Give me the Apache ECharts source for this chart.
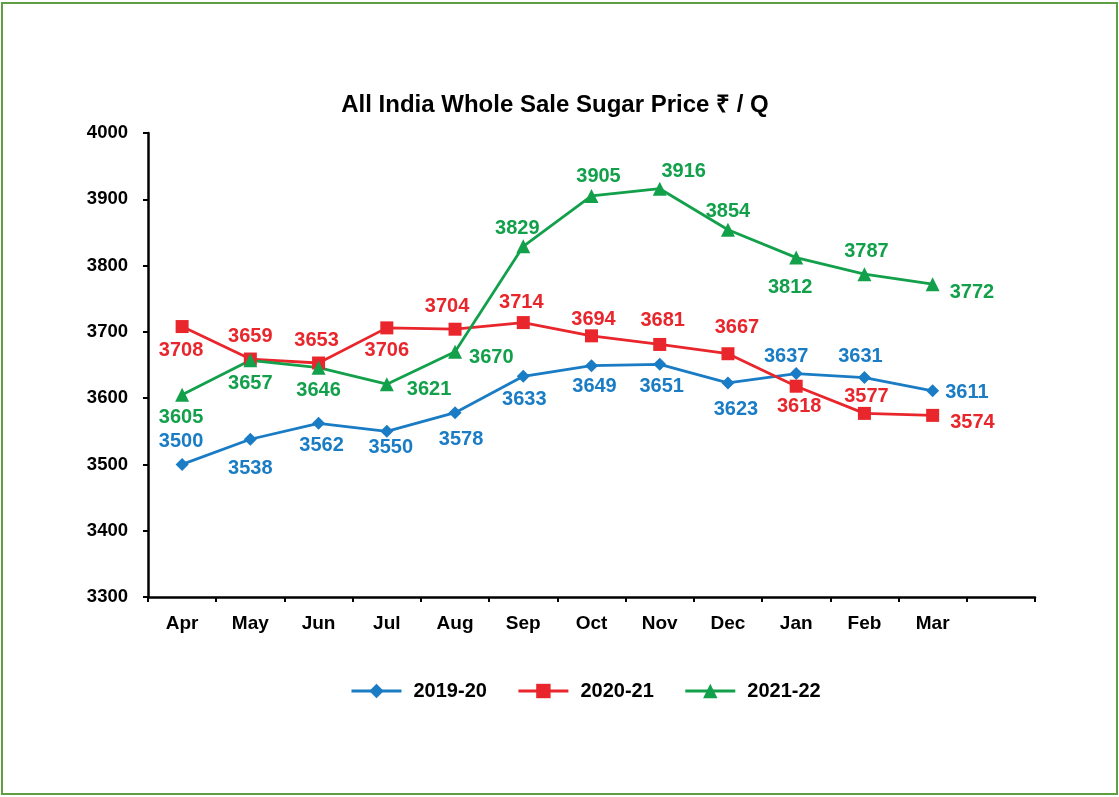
<!DOCTYPE html>
<html><head><meta charset="utf-8">
<script src="https://cdn.jsdelivr.net/npm/echarts@6/dist/echarts.min.js"></script>
<style>html,body{margin:0;padding:0;background:#fff}#c{width:1119px;height:797px}
#frame{position:absolute;left:1px;top:2px;width:1113px;height:789px;border:2px solid #5f9e43;pointer-events:none}</style>
</head><body><div id="c"></div><div id="frame"></div>
<script>
const categories = ['Apr','May','Jun','Jul','Aug','Sep','Oct','Nov','Dec','Jan','Feb','Mar',''];
const s2019 = [3500,3538,3562,3550,3578,3633,3649,3651,3623,3637,3631,3611];
const s2020 = [3708,3659,3653,3706,3704,3714,3694,3681,3667,3618,3577,3574];
const s2021 = [3605,3657,3646,3621,3670,3829,3905,3916,3854,3812,3787,3772];
const yTicks = {min:3300, max:4000, interval:100};
const seriesNames = ['2019-20','2020-21','2021-22'];

const pos2019 = ['top','bottom','bottom','bottom','bottom','bottom','bottom','bottom','bottom','top','top','right'];
const pos2020 = ['bottom','top','top','bottom','top','top','top','top','top','bottom','top','right'];
const pos2021 = ['bottom','bottom','bottom','right','right','top','top','top','top','bottom','top','right'];
const off2019 = [[-1,0],[0,7],[3,0],[4,-6],[6,4],[1,1],[3,-2],[2,0],[8,4],[-10,5],[-4,1],[0,2]];
const off2020 = [[-1,1],[0,0],[-2,0],[0,0],[-8,0],[-2,2],[2,6],[3,-1],[9,-4],[3,-2],[2,6],[5,7]];
const off2021 = [[-1,0],[0,0],[0,0],[7,5],[1,6],[-6,5],[7,4],[24,6],[0,5],[-6,7],[2,0],[4,8]];

const fam = '"Liberation Sans", Arial, Helvetica, sans-serif';
function mk(vals, pos, off){
  return vals.map((v,i)=>({value:v, label:{position:pos[i], offset:off[i]}}));
}
const colors = ['#1a7cc4','#e8262c','#12a04b'];
const symbols = ['diamond','rect','triangle'];
const sizes = [13,13,14];
const all = [[s2019,pos2019,off2019],[s2020,pos2020,off2020],[s2021,pos2021,off2021]];

const chart = echarts.init(document.getElementById('c'));
chart.setOption({
  animation:false,
  title:{text:'All India Whole Sale Sugar Price ₹ / Q', left:550, textAlign:'center', top:88,
    textStyle:{fontFamily:fam, fontSize:24, fontWeight:'bold', color:'#000'}},
  grid:{left:148, top:133, right:84, bottom:200},
  legend:{bottom:91, left:345, itemWidth:50, itemHeight:18, itemGap:30,
    lineStyle:{width:3},
    textStyle:{fontFamily:fam, fontSize:20, fontWeight:'bold', color:'#000', padding:[0,0,0,7]}, data:seriesNames},
  xAxis:{type:'category', data:categories, boundaryGap:true,
    axisLine:{lineStyle:{color:'#000', width:2.5}},
    axisTick:{show:true, length:5, lineStyle:{color:'#000', width:2}, alignWithLabel:false},
    axisLabel:{fontFamily:fam, fontSize:19, fontWeight:'bold', color:'#000', margin:17}},
  yAxis:{type:'value', min:yTicks.min, max:yTicks.max, interval:yTicks.interval,
    axisLine:{show:true, lineStyle:{color:'#000', width:2.5}},
    axisTick:{show:true, length:5, lineStyle:{color:'#000', width:2}},
    splitLine:{show:false},
    axisLabel:{fontFamily:fam, fontSize:18.5, fontWeight:'bold', color:'#000', margin:20, formatter:(v)=>String(v)}},
  series: all.map((a,k)=>({
    name:seriesNames[k], type:'line', data:mk(a[0],a[1],a[2]),
    symbol:symbols[k], symbolSize:sizes[k], showAllSymbol:true,
    lineStyle:{color:colors[k], width:2.8}, itemStyle:{color:colors[k]},
    label:{show:true, distance:6, fontFamily:fam, fontSize:20, fontWeight:'bold', color:colors[k]}
  }))
});
</script></body></html>
